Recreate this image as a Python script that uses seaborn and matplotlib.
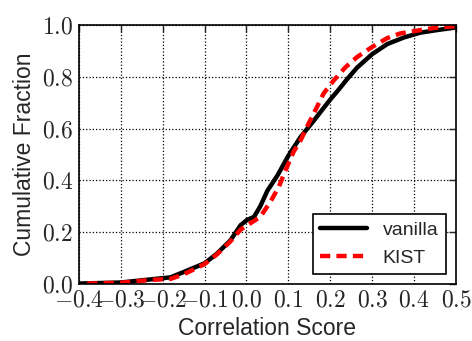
"""CDF of correlation scores: vanilla vs KIST."""
import matplotlib
matplotlib.use("Agg")
import matplotlib.pyplot as plt
import pandas as pd
import seaborn as sns
from matplotlib.ticker import FuncFormatter, MultipleLocator

# values
vanilla_x = [-0.40, -0.30, -0.229, -0.181, -0.149, -0.10, -0.07, -0.038, -0.014, 0.002,
             0.018, 0.033, 0.050, 0.074, 0.10, 0.129, 0.161, 0.198, 0.22, 0.24, 0.264,
             0.30, 0.336, 0.375, 0.415, 0.455, 0.50]
vanilla_y = [0.002, 0.006, 0.018, 0.026, 0.047, 0.080, 0.118, 0.169, 0.227, 0.248,
             0.259, 0.300, 0.360, 0.419, 0.495, 0.567, 0.631, 0.708, 0.750, 0.790, 0.835,
             0.887, 0.926, 0.951, 0.970, 0.980, 0.990]
kist_x = [-0.38, -0.30, -0.229, -0.181, -0.149, -0.10, -0.07, -0.038, -0.014, 0.002,
          0.033, 0.057, 0.077, 0.093, 0.112, 0.129, 0.148, 0.168, 0.184, 0.208,
          0.236, 0.264, 0.30, 0.336, 0.367, 0.415, 0.455, 0.50]
kist_y = [0.002, 0.005, 0.016, 0.020, 0.038, 0.077, 0.115, 0.165, 0.210, 0.227,
          0.259, 0.317, 0.374, 0.438, 0.509, 0.554, 0.618, 0.682, 0.735, 0.785,
          0.836, 0.876, 0.915, 0.949, 0.967, 0.980, 0.990, 0.995]

df = pd.concat([
    pd.DataFrame({"score": vanilla_x, "frac": vanilla_y, "method": "vanilla"}),
    pd.DataFrame({"score": kist_x, "frac": kist_y, "method": "KIST"}),
])

sns.set_style("white")
plt.rcParams["font.family"] = ["Liberation Sans", "DejaVu Sans"]
plt.rcParams["mathtext.fontset"] = "cm"

fig = plt.figure(figsize=(4.72, 3.41), dpi=100)
ax = fig.add_axes([0.167, 0.167, 0.799, 0.76])

sns.lineplot(data=df, x="score", y="frac", hue="method", style="method",
             palette={"vanilla": "black", "KIST": "red"},
             dashes={"vanilla": "", "KIST": (2.3, 1.4)},
             linewidth=3.2, sort=False, estimator=None, ax=ax)

ax.set_xlim(-0.4, 0.5)
ax.set_ylim(0.0, 1.0)
ax.xaxis.set_major_locator(MultipleLocator(0.1))
ax.yaxis.set_major_locator(MultipleLocator(0.2))
fmt = FuncFormatter(lambda v, _: "$%.1f$" % (0.0 if abs(v) < 1e-9 else v))
ax.xaxis.set_major_formatter(fmt)
ax.yaxis.set_major_formatter(fmt)
ax.tick_params(direction="in", top=True, right=True, length=5, width=1,
               labelsize=17, pad=4)
ax.grid(True, linestyle=":", color="black", linewidth=0.9)
for s in ax.spines.values():
    s.set_color("black")
    s.set_linewidth(1.2)

ax.set_xlabel("Correlation Score", fontsize=16.5)
ax.set_ylabel("Cumulative Fraction", fontsize=16.5)

leg = ax.legend(loc="lower right", fontsize=14, frameon=True, fancybox=False,
                handlelength=2.4, borderaxespad=0.5)
leg.get_frame().set_edgecolor("black")
leg.get_frame().set_linewidth(1.2)
leg.get_frame().set_alpha(1)
leg.set_title(None)

fig.savefig("out.png", dpi=100)
